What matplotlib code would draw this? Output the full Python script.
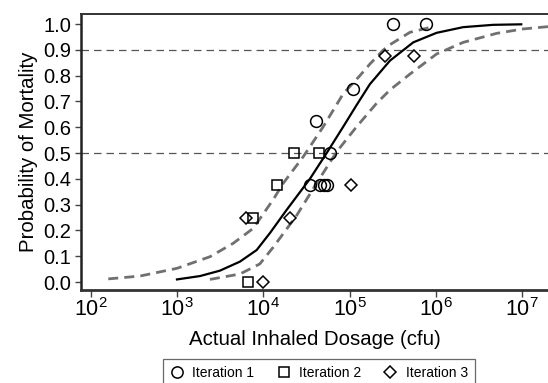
import numpy as np
import matplotlib
matplotlib.use("Agg")
import matplotlib.pyplot as plt

plt.rcParams['font.family'] = ['Liberation Sans', 'DejaVu Sans']

# observed mortality per dose group (dose in cfu)
iter1_dose = [3.15e5, 7.7e5, 1.1e5, 4.1e4, 6.0e4, 3.5e4, 4.6e4, 5.0e4, 5.5e4]
iter1_prob = [1.0, 1.0, 0.75, 0.625, 0.5, 0.375, 0.375, 0.375, 0.375]
iter2_dose = [2.3e4, 4.4e4, 1.45e4, 7.7e3, 6.6e3]
iter2_prob = [0.5, 0.5, 0.375, 0.25, 0.0]
iter3_dose = [2.6e5, 5.6e5, 1.04e5, 2.05e4, 6.3e3, 1.0e4]
iter3_prob = [0.875, 0.875, 0.375, 0.25, 0.25, 0.0]

fit_logd = [3.0, 3.267, 3.498, 3.73, 3.924, 4.078, 4.27, 4.541, 4.735, 4.927,
            5.08, 5.236, 5.468, 5.738, 6.009, 6.317, 6.665, 6.99]
fit_prob = [0.01, 0.023, 0.044, 0.079, 0.124, 0.19, 0.279, 0.40, 0.50, 0.602,
            0.685, 0.767, 0.858, 0.929, 0.966, 0.988, 0.997, 0.999]
upper_logd = [2.204, 2.571, 3.0, 3.382, 3.652, 3.884, 4.116, 4.232, 4.464, 4.695,
              4.927, 5.12, 5.236, 5.39, 5.468, 5.70, 5.97]
upper_prob = [0.012, 0.023, 0.053, 0.098, 0.15, 0.208, 0.32, 0.383, 0.486, 0.602,
              0.73, 0.80, 0.845, 0.899, 0.92, 0.968, 0.99]
lower_logd = [3.382, 3.73, 3.96, 4.116, 4.387, 4.619, 4.851, 5.082, 5.314, 5.47,
              5.70, 6.009, 6.317, 6.705, 7.01, 7.30]
lower_prob = [0.01, 0.031, 0.07, 0.135, 0.258, 0.383, 0.505, 0.602, 0.693, 0.745,
              0.806, 0.884, 0.929, 0.964, 0.981, 0.99]

ref_levels = [0.5, 0.9]


def plot_dose_response():
    fig = plt.figure(figsize=(5.48, 3.83), dpi=100)
    ax = fig.add_axes([81 / 548, 93 / 383, 467 / 548, 276 / 383])

    for lvl in ref_levels:
        ax.axhline(lvl, color='#555555', lw=0.9, ls=(0, (6, 4)), zorder=1)

    ax.plot(10 ** np.array(upper_logd), upper_prob, color='#707070', lw=2.0,
            ls=(0, (3.6, 2.2)), zorder=2)
    ax.plot(10 ** np.array(lower_logd), lower_prob, color='#707070', lw=2.0,
            ls=(0, (3.6, 2.2)), zorder=2)
    ax.plot(10 ** np.array(fit_logd), fit_prob, color='black', lw=1.6, zorder=3)

    mk = dict(ls='none', mfc='none', mec='black', mew=1.1, zorder=4)
    ax.plot(iter1_dose, iter1_prob, marker='o', ms=8.5, label='Iteration 1', **mk)
    ax.plot(iter2_dose, iter2_prob, marker='s', ms=7, label='Iteration 2', **mk)
    ax.plot(iter3_dose, iter3_prob, marker='D', ms=6.2, label='Iteration 3', **mk)

    ax.set_xscale('log')
    ax.set_xlim(10 ** 1.888, 10 ** 7.30)
    ax.set_ylim(-0.031, 1.039)
    ax.set_xticks([1e2, 1e3, 1e4, 1e5, 1e6, 1e7])
    ax.xaxis.set_minor_locator(matplotlib.ticker.NullLocator())
    yt = np.arange(0, 1.01, 0.1)
    ax.set_yticks(yt)
    ax.set_yticklabels([f'{v:.1f}' for v in yt])
    ax.tick_params(axis='y', labelsize=14.5, direction='out', length=4, width=1,
                   color='#444444', pad=3)
    ax.tick_params(axis='x', labelsize=15.5, direction='out', length=5, width=1,
                   color='#444444', pad=1)

    ax.spines['right'].set_visible(False)
    ax.spines['top'].set_linewidth(1.4)
    ax.spines['top'].set_color('#333333')
    ax.spines['left'].set_linewidth(1.8)
    ax.spines['left'].set_color('#222222')
    ax.spines['bottom'].set_linewidth(2.0)
    ax.spines['bottom'].set_color('#333333')

    ax.set_xlabel('Actual Inhaled Dosage (cfu)', fontsize=14.7, labelpad=6)
    ax.set_ylabel('Probability of Mortality', fontsize=14.7, labelpad=4)

    leg = fig.legend(loc='upper center', bbox_to_anchor=(319 / 548, 1 - 359 / 383),
                     ncol=3, fontsize=10, frameon=True, fancybox=False,
                     edgecolor='#444444', handlelength=1.0, handletextpad=0.6,
                     columnspacing=1.6, borderpad=0.5, borderaxespad=0,
                     markerscale=0.95)
    leg.get_frame().set_linewidth(0.9)

    fig.savefig('out.png', dpi=100)


if __name__ == "__main__":
    plot_dose_response()
